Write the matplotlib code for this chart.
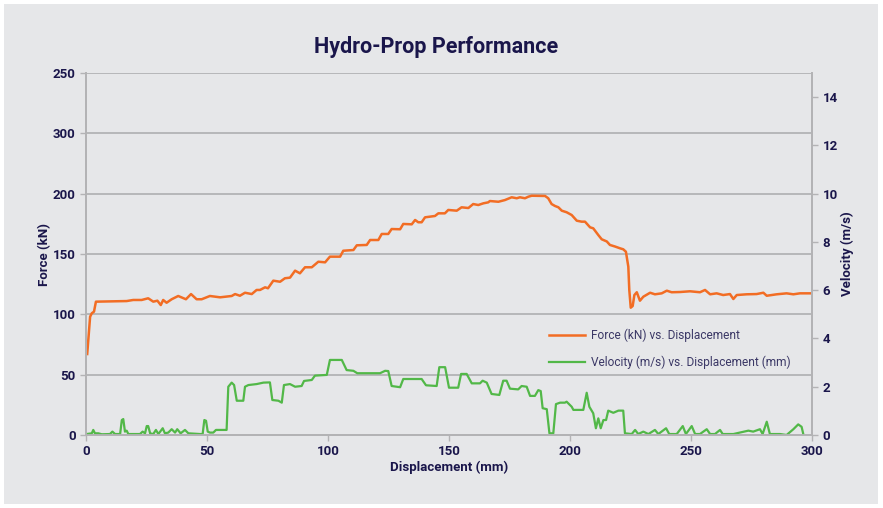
import matplotlib.pyplot as plt
import matplotlib.patches as patches

plt.rcParams['font.family'] = ['Roboto', 'DejaVu Sans']

# force vs displacement
disp_f = [0.5, 1.7, 2.4, 3.3, 4.1, 16.8, 19.5, 23.0, 25.7, 27.8, 29.5, 30.9, 31.9, 33.3,
          35.4, 38.1, 41.3, 43.4, 45.7, 47.8, 51.2, 55.4, 60.2, 61.6, 63.6, 65.7, 68.5,
          70.5, 71.9, 74.0, 75.2, 77.4, 80.2, 82.2, 84.3, 86.4, 88.4, 90.5, 93.3, 96.0,
          98.8, 100.8, 105.0, 106.3, 110.5, 111.9, 116.0, 117.4, 120.8, 122.2, 124.9,
          126.3, 129.8, 131.1, 134.6, 136.0, 137.3, 138.7, 140.1, 144.2, 145.6, 148.3,
          149.7, 153.2, 155.2, 158.0, 160.0, 162.1, 164.2, 166.2, 166.9, 170.4, 173.1,
          175.9, 178.0, 179.3, 181.4, 182.8, 184.2, 189.7, 191.0, 192.4, 193.8, 195.2,
          196.6, 198.6, 200.7, 202.8, 204.8, 206.2, 208.3, 209.6, 211.7, 213.1, 215.2,
          216.5, 218.6, 220.7, 222.0, 223.1, 224.1, 224.5, 225.1, 225.9, 226.6, 227.6,
          228.9, 230.3, 233.1, 235.1, 237.9, 240.0, 242.0, 245.5, 249.6, 253.7, 255.8,
          257.9, 260.6, 263.3, 266.1, 267.5, 268.9, 273.0, 277.1, 279.9, 281.3, 285.4,
          289.5, 292.3, 295.0, 300.0]
force = [67.1, 98.0, 100.9, 102.2, 110.5, 111.0, 111.9, 111.9, 113.3, 110.5, 111.3, 107.7,
         111.9, 109.6, 112.5, 115.2, 112.5, 116.8, 112.5, 112.5, 115.2, 114.1, 115.2, 116.8,
         115.4, 117.9, 116.8, 120.2, 120.2, 122.4, 121.6, 127.9, 127.0, 129.9, 130.4, 136.2,
         134.0, 139.0, 139.0, 143.6, 143.1, 147.8, 147.8, 152.7, 153.3, 157.2, 157.5, 161.6,
         161.6, 166.6, 166.6, 170.7, 170.5, 174.9, 174.6, 178.2, 176.3, 176.3, 180.4, 181.5,
         183.7, 183.7, 186.5, 185.9, 188.7, 188.1, 191.4, 190.6, 192.0, 192.8, 193.9, 193.3,
         194.7, 197.0, 196.2, 197.0, 196.2, 197.5, 198.3, 198.1, 196.2, 191.4, 189.8, 188.7,
         185.9, 184.6, 182.3, 177.6, 176.8, 176.8, 172.1, 171.3, 165.7, 162.2, 160.4, 157.5,
         156.2, 154.7, 153.9, 151.9, 139.5, 120.2, 105.5, 106.9, 116.0, 118.3, 111.3, 114.6,
         117.9, 116.6, 117.4, 119.6, 118.3, 118.5, 119.1, 118.3, 120.2, 116.6, 117.4, 116.0,
         116.8, 112.7, 116.0, 116.6, 116.8, 117.9, 115.4, 116.6, 117.4, 116.6, 117.4, 117.4]

# velocity vs displacement
disp_v = [0.3, 2.4, 3.0, 3.7, 5.1, 6.5, 9.9, 10.9, 12.0, 14.1, 14.8, 15.4, 16.1, 16.8, 17.5,
          22.3, 23.4, 24.4, 25.1, 25.7, 26.5, 27.8, 28.9, 29.9, 31.7, 32.6, 34.0, 35.4,
          36.8, 37.7, 39.1, 40.9, 42.3, 47.1, 48.2, 48.9, 49.6, 50.3, 51.2, 52.6, 53.7,
          58.1, 58.8, 60.2, 61.2, 62.3, 65.0, 65.7, 67.1, 70.5, 73.3, 76.0, 77.0, 79.5,
          80.9, 81.8, 84.3, 86.4, 89.1, 90.1, 93.3, 94.6, 99.5, 100.8, 105.7, 107.7, 110.5,
          112.1, 121.5, 123.6, 124.9, 126.3, 129.8, 131.1, 138.7, 140.5, 144.9, 146.0,
          148.4, 150.0, 153.8, 155.0, 157.3, 159.4, 162.8, 163.9, 165.6, 167.6, 170.8,
          172.4, 173.8, 175.2, 178.6, 180.0, 182.1, 183.5, 185.5, 186.9, 187.9, 188.7,
          190.4, 191.5, 193.1, 194.2, 195.9, 197.9, 198.6, 200.7, 201.4, 205.5, 206.9,
          208.0, 209.6, 210.7, 211.7, 212.7, 213.8, 214.9, 215.8, 217.9, 220.0, 222.0,
          222.7, 225.5, 226.9, 228.2, 230.3, 232.4, 235.1, 236.5, 239.7, 241.0, 244.1,
          246.6, 247.9, 250.3, 251.7, 253.7, 256.5, 257.9, 259.9, 262.0, 263.1, 267.5,
          270.2, 273.7, 275.7, 278.5, 279.6, 281.3, 282.6, 286.8, 289.5, 292.3, 294.3,
          295.7, 296.4]
velocity = [0.04, 0.07, 0.21, 0.07, 0.07, 0.03, 0.04, 0.14, 0.04, 0.04, 0.62, 0.66, 0.14,
            0.18, 0.04, 0.04, 0.14, 0.07, 0.37, 0.37, 0.07, 0.04, 0.21, 0.04, 0.28, 0.07,
            0.10, 0.24, 0.10, 0.24, 0.07, 0.21, 0.07, 0.04, 0.04, 0.62, 0.59, 0.14, 0.10,
            0.10, 0.21, 0.21, 2.00, 2.17, 2.07, 1.42, 1.42, 2.00, 2.07, 2.11, 2.17, 2.18,
            1.45, 1.42, 1.34, 2.07, 2.11, 2.00, 2.03, 2.24, 2.28, 2.46, 2.49, 3.11, 3.11,
            2.69, 2.66, 2.56, 2.56, 2.66, 2.65, 2.03, 1.98, 2.32, 2.32, 2.06, 2.03, 2.81,
            2.81, 1.96, 1.96, 2.53, 2.53, 2.14, 2.14, 2.25, 2.17, 1.70, 1.66, 2.25, 2.25,
            1.92, 1.89, 2.03, 2.00, 1.62, 1.62, 1.86, 1.82, 1.11, 1.07, 0.07, 0.07, 1.28,
            1.34, 1.34, 1.38, 1.17, 1.04, 1.04, 1.75, 1.17, 0.90, 0.28, 0.69, 0.28, 0.62,
            0.62, 1.01, 0.92, 1.01, 1.01, 0.07, 0.04, 0.21, 0.04, 0.14, 0.04, 0.21, 0.04,
            0.28, 0.04, 0.04, 0.37, 0.04, 0.37, 0.04, 0.04, 0.24, 0.04, 0.04, 0.21, 0.04,
            0.04, 0.10, 0.18, 0.14, 0.24, 0.04, 0.55, 0.04, 0.04, 0.00, 0.24, 0.44, 0.34,
            0.04]

force_ticks = [0, 50, 100, 150, 200, 250, 300]
force_labels = ["0", "50", "100", "150", "200", "300", "250"]
vel_ticks = [0, 2, 4, 6, 8, 10, 12, 14]
x_ticks = [0, 50, 100, 150, 200, 250, 300]

navy = "#1a164b"
bg = "#e6e7e9"
grid = "#b3b3b5"
orange = "#f26d24"
green = "#52b848"

fig = plt.figure(figsize=(8.83, 5.08), dpi=100)
fig.patch.set_facecolor("white")
fig.patches.append(patches.Rectangle((4/883, 4/508), 874/883, 500/508, transform=fig.transFigure,
                                     facecolor=bg, edgecolor="none", zorder=-10))

ax = fig.add_axes([86/883, 73/508, 726/883, 362/508])
ax.set_facecolor(bg)
ax2 = ax.twinx()

l1, = ax.plot(disp_f, force, color=orange, lw=1.8, solid_joinstyle="round",
              label="Force (kN) vs. Displacement")
l2, = ax2.plot(disp_v, velocity, color=green, lw=1.6, solid_joinstyle="round",
               label="Velocity (m/s) vs. Displacement (mm)")

ax.set_xlim(0, 300)
ax.set_ylim(0, 300)
ax2.set_ylim(0, 15)
ax.set_xticks(x_ticks)
ax.set_yticks(force_ticks)
ax.set_yticklabels(force_labels)
ax2.set_yticks(vel_ticks)

ax.yaxis.grid(True, color=grid, lw=1.3)
ax.set_axisbelow(True)

for a in (ax, ax2):
    for s in a.spines.values():
        s.set_color(grid)
        s.set_linewidth(1.3)
    a.spines["top"].set_visible(False)
    a.tick_params(colors=grid, labelcolor=navy, labelsize=9.5, length=4, width=1)
    for t in a.get_xticklabels() + a.get_yticklabels():
        t.set_fontweight("bold")

ax.set_xlabel("Displacement (mm)", color=navy, fontsize=9.5, fontweight="bold", labelpad=2)
ax.set_ylabel("Force (kN)", color=navy, fontsize=9.5, fontweight="bold", labelpad=1)
ax2.set_ylabel("Velocity (m/s)", color=navy, fontsize=9.5, fontweight="bold", labelpad=2)

fig.text(0.494, 1 - 47/508, "Hydro-Prop Performance", ha="center", va="center",
         color=navy, fontsize=15.5, fontweight="bold")

leg = ax.legend([l1, l2], [l1.get_label(), l2.get_label()], loc="upper left",
                bbox_to_anchor=(538/883, 1 - 318/508), bbox_transform=fig.transFigure,
                frameon=False, fontsize=8.6, handlelength=3.0, labelspacing=1.1, handletextpad=0.5)
for t in leg.get_texts():
    t.set_color("#3b3866")

fig.savefig("out.png", dpi=100)
